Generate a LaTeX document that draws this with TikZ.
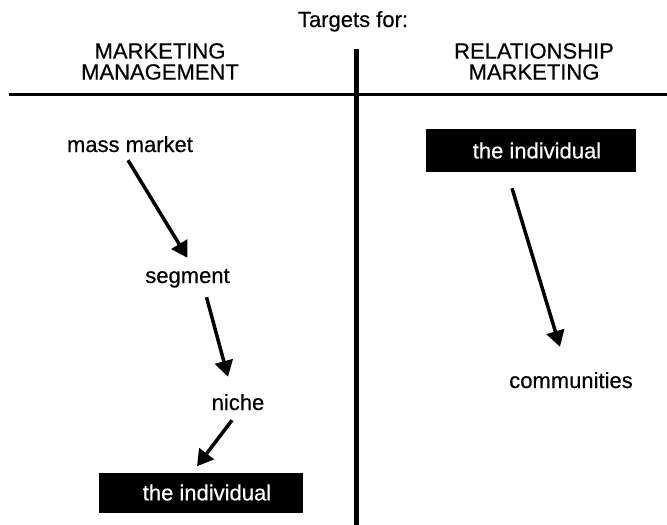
\documentclass[tikz,border=0pt]{standalone}
\usepackage{fontspec}
\setmainfont{Liberation Sans}[FakeBold=0.4,AutoFakeBold=0.4]
\usetikzlibrary{arrows.meta}
\begin{document}
\begin{tikzpicture}[x=1pt,y=-1pt,font=\fontsize{22}{21}\selectfont\bfseries,
	lbl/.style={inner sep=0pt,text height=15pt,text depth=4pt,anchor=base},
	head/.style={inner sep=0pt,align=center,anchor=north},
	blackbox/.style={fill=black,text=white,inner sep=0pt,minimum width=#1},
	arr/.style={line width=3.5pt,-{Triangle[length=16pt,width=18pt]}}]
	\useasboundingbox (0,0) rectangle (667,525);
	\node[lbl] (title) at (353,27) {Targets for:};
	\node[head] (mgmt) at (160,43) {MARKETING\\MANAGEMENT};
	\node[head] (rel) at (534,43) {RELATIONSHIP\\MARKETING};
	\draw[line width=3pt] (9,94)--(667,94);
	\draw[line width=5pt] (356,49)--(356,525);
	\foreach \n/\x/\y/\t in {mm/130/152/mass market,seg/187.5/283/segment,
		niche/238/410/niche,comm/571/388/communities}{
		\node[lbl] (\n) at (\x,\y) {\t};
	}
	\node[blackbox=204pt,minimum height=40pt] (indL) at (201,492.5) {\hspace{12pt}the individual};
	\node[blackbox=210pt,minimum height=43pt] (indR) at (531,150.5) {\hspace{12pt}the individual};
	\draw[arr] ([xshift=-2pt,yshift=-4pt]mm.south)--([yshift=10pt]seg.north);
	\draw[arr] ([xshift=19pt,yshift=-10pt]seg.south)--([xshift=-10pt,yshift=18pt]niche.north);
	\draw[arr] ([xshift=-6pt,yshift=-6pt]niche.south)--([xshift=-4pt,yshift=6pt]indL.north);
	\draw[arr] ([xshift=-19pt,yshift=-16pt]indR.south)--([xshift=-11pt,yshift=26pt]comm.north);
\end{tikzpicture}
\end{document}
